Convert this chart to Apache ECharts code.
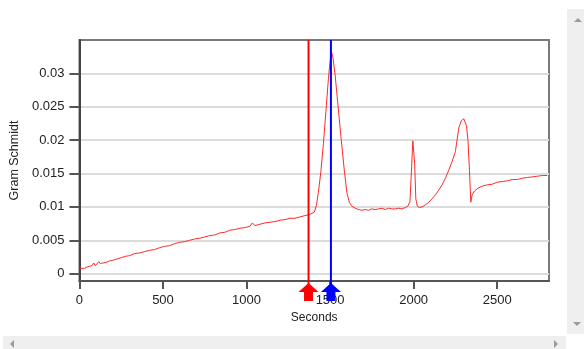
<!DOCTYPE html>
<html>
<head>
<meta charset="utf-8">
<script src="https://cdn.jsdelivr.net/npm/echarts@6/dist/echarts.min.js"></script>
<style>
  html, body { margin: 0; padding: 0; background: #ffffff; }
  #chart { width: 584px; height: 349px; }
</style>
</head>
<body>
<div id="chart"></div>
<script>
// Detector trace: time in seconds and Gram-Schmidt response
var seconds = [0, 15, 30, 45, 60, 75, 86, 95, 105, 116, 125, 140, 160, 180, 200, 225, 250, 275, 300, 330,
  360, 390, 420, 450, 480, 510, 540, 570, 600, 630, 660, 690, 720, 750, 780, 810, 840, 870, 900, 930,
  960, 990, 1020, 1035, 1050, 1080, 1110, 1140, 1170, 1200, 1230, 1260, 1290, 1320, 1350, 1380, 1405, 1418, 1430, 1445,
  1460, 1475, 1490, 1503, 1510, 1518, 1530, 1545, 1565, 1585, 1600, 1615, 1630, 1650, 1670, 1690, 1710, 1730, 1750, 1770,
  1790, 1810, 1830, 1850, 1870, 1890, 1910, 1930, 1950, 1965, 1978, 1988, 1995, 2000, 2006, 2013, 2022, 2035, 2050, 2070,
  2090, 2110, 2130, 2150, 2170, 2190, 2210, 2230, 2250, 2270, 2285, 2300, 2308, 2316, 2325, 2334, 2342, 2350, 2365, 2385,
  2410, 2440, 2470, 2500, 2530, 2560, 2590, 2620, 2650, 2680, 2710, 2740, 2770, 2800];

var gramSchmidt = [0.0007, 0.0008, 0.0008, 0.0010, 0.0011, 0.0012, 0.0016, 0.0012, 0.0014, 0.0018, 0.0015, 0.0016, 0.0017, 0.0019, 0.0020, 0.0022, 0.0024, 0.0026, 0.0027, 0.0030,
  0.0031, 0.0033, 0.0035, 0.0036, 0.0039, 0.0041, 0.0042, 0.0045, 0.0047, 0.0048, 0.0050, 0.0052, 0.0053, 0.0055, 0.0057, 0.0058, 0.0061, 0.0062, 0.0065, 0.0066,
  0.0068, 0.0069, 0.0071, 0.0076, 0.0072, 0.0074, 0.0076, 0.0077, 0.0078, 0.0080, 0.0081, 0.0083, 0.0083, 0.0085, 0.0087, 0.0089, 0.0092, 0.0102, 0.0122, 0.0153,
  0.0195, 0.0243, 0.0292, 0.0326, 0.0331, 0.0322, 0.0298, 0.0258, 0.0205, 0.0155, 0.0122, 0.0107, 0.0101, 0.0098, 0.0096, 0.0095, 0.0096, 0.0095, 0.0097, 0.0096,
  0.0097, 0.0098, 0.0096, 0.0098, 0.0097, 0.0097, 0.0098, 0.0097, 0.0099, 0.0101, 0.0108, 0.0160, 0.0199, 0.0199, 0.0165, 0.0112, 0.0101, 0.0099, 0.0100, 0.0103,
  0.0107, 0.0112, 0.0118, 0.0125, 0.0133, 0.0143, 0.0155, 0.0168, 0.0183, 0.0218, 0.0229, 0.0232, 0.0231, 0.0222, 0.0200, 0.0155, 0.0107, 0.0118, 0.0124, 0.0128,
  0.0131, 0.0133, 0.0134, 0.0137, 0.0138, 0.0139, 0.0141, 0.0141, 0.0143, 0.0144, 0.0145, 0.0146, 0.0147, 0.0147];

// Cursor positions (seconds) and their colours
var cursorTimes = [1371, 1505];
var cursorColors = ['#ff0000', '#0000ff'];

// Labelled tick values
var xTickValues = [0, 500, 1000, 1500, 2000, 2500];
var yTickValues = [0, 0.005, 0.01, 0.015, 0.02, 0.025, 0.03];

var xMin = 0, xMax = 2810;
var yMin = -0.0011, yMax = 0.035;

var FONT = '"Liberation Sans", Arial, sans-serif';

var traceData = seconds.map(function (t, i) { return [t, gramSchmidt[i]]; });
var cursorData = cursorTimes.map(function (t, i) {
  return { value: [t, yMax], color: cursorColors[i] };
});

var plainNumber = function (v) { return String(v); };

var chart = echarts.init(document.getElementById('chart'), null, { renderer: 'canvas' });

chart.setOption({
  backgroundColor: '#ffffff',
  animation: false,
  grid: {
    left: 77, right: 35, top: 40, bottom: 68,
    show: true, borderColor: '#7a7a7a', borderWidth: 2, backgroundColor: 'transparent'
  },
  xAxis: {
    type: 'value',
    min: xMin, max: xMax, interval: 500,
    name: 'Seconds', nameLocation: 'middle', nameGap: 29,
    nameTextStyle: { fontFamily: FONT, fontSize: 12, color: '#222' },
    axisLine: { show: true, onZero: false, lineStyle: { color: '#555', width: 2 } },
    axisTick: { show: true, length: 8, customValues: xTickValues, lineStyle: { color: '#555', width: 2 } },
    axisLabel: { customValues: xTickValues, formatter: plainNumber, margin: 13, fontFamily: FONT, fontSize: 13, color: '#222' },
    splitLine: { show: false }
  },
  yAxis: {
    type: 'value',
    min: yMin, max: yMax, splitNumber: 7,
    name: 'Gram Schmidt', nameLocation: 'middle', nameGap: 45,
    nameTextStyle: { fontFamily: FONT, fontSize: 12.5, color: '#222' },
    axisLine: { show: true, onZero: false, lineStyle: { color: '#444', width: 2 } },
    axisTick: { show: true, length: 10, customValues: yTickValues, lineStyle: { color: '#555', width: 2 } },
    axisLabel: { customValues: yTickValues, formatter: plainNumber, margin: 15, fontFamily: FONT, fontSize: 13, color: '#222' },
    splitLine: { show: true, lineStyle: { color: '#dcdcdc', width: 2 } }
  },
  series: [
    {
      type: 'line',
      data: traceData,
      showSymbol: false,
      symbol: 'none',
      lineStyle: { color: '#ff2a2a', width: 1 },
      z: 3
    },
    {
      // vertical cursors with arrow handles under the axis
      type: 'custom',
      data: cursorData,
      clip: false,
      z: 5,
      renderItem: function (params, api) {
        var cs = params.coordSys;
        var x = api.coord([api.value(0), yMax])[0];
        var top = cs.y;
        var b = cs.y + cs.height;
        var color = cursorColors[params.dataIndex];
        return {
          type: 'group',
          children: [
            {
              type: 'line',
              shape: { x1: x, y1: top, x2: x, y2: b + 6 },
              style: { stroke: color, lineWidth: 2 }
            },
            {
              type: 'polygon',
              shape: {
                points: [
                  [x, b + 2], [x + 10, b + 11], [x + 4.5, b + 11], [x + 4.5, b + 20],
                  [x - 4.5, b + 20], [x - 4.5, b + 11], [x - 10, b + 11]
                ]
              },
              style: { fill: color }
            }
          ]
        };
      }
    }
  ],
  graphic: [
    // window scroll bars
    { type: 'rect', shape: { x: 567, y: 9, width: 17, height: 325 }, style: { fill: '#efefef' }, silent: true },
    { type: 'rect', shape: { x: 3, y: 336, width: 563, height: 13 }, style: { fill: '#efefef' }, silent: true },
    { type: 'polygon', shape: { points: [[578, 18], [582, 22], [574, 22]] }, style: { fill: '#9a9a9a' }, silent: true },
    { type: 'polygon', shape: { points: [[573, 322], [581, 322], [577, 326]] }, style: { fill: '#9a9a9a' }, silent: true },
    { type: 'polygon', shape: { points: [[10, 344], [14, 340], [14, 348]] }, style: { fill: '#9a9a9a' }, silent: true },
    { type: 'polygon', shape: { points: [[558, 344], [554, 340], [554, 348]] }, style: { fill: '#9a9a9a' }, silent: true }
  ]
});
</script>
</body>
</html>
